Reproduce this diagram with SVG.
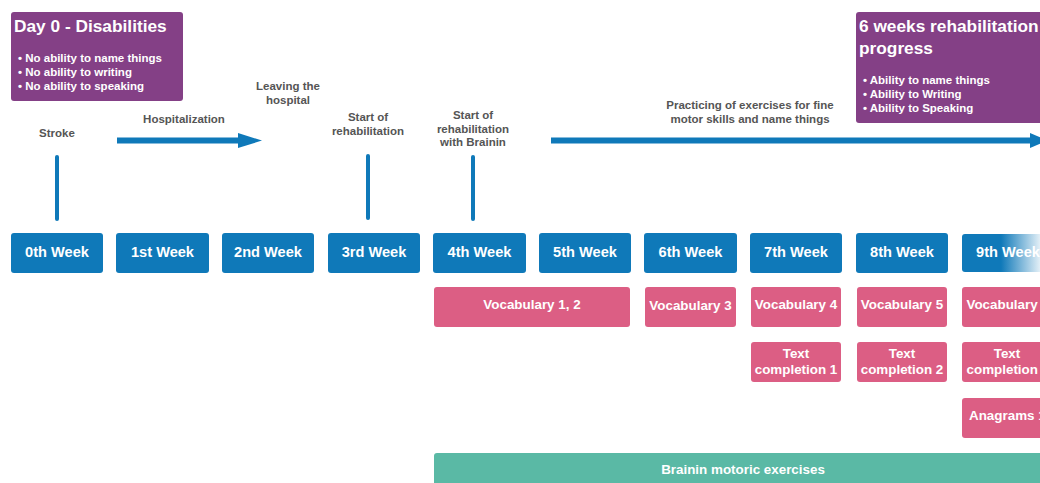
<svg xmlns="http://www.w3.org/2000/svg" width="1040" height="483" viewBox="0 0 1040 483">
<defs>
<style>
.wk{fill:#0f79b9;}
.pk{fill:#dc5e84;}
.pu{fill:#844086;}
.gr{fill:#5ab9a5;}
.wt{font-family:"Liberation Sans",Arial,sans-serif;font-weight:bold;font-size:14.6px;fill:#fff;text-anchor:middle;}
.pt{font-family:"Liberation Sans",Arial,sans-serif;font-weight:bold;font-size:13.4px;fill:#fff;text-anchor:middle;}
.ps{font-family:"Liberation Sans",Arial,sans-serif;font-weight:bold;font-size:13.4px;fill:#fff;}
.lb{font-family:"Liberation Sans",Arial,sans-serif;font-weight:bold;font-size:11.5px;fill:#555;text-anchor:middle;}
.ht{font-family:"Liberation Sans",Arial,sans-serif;font-weight:bold;font-size:17.3px;fill:#fff;}
.bl{font-family:"Liberation Sans",Arial,sans-serif;font-weight:bold;font-size:11.5px;fill:#fff;}
.ln{stroke:#0f79b9;stroke-width:4;stroke-linecap:round;fill:none;}
.ar{stroke:#0f79b9;stroke-width:6;fill:none;}
</style>
<linearGradient id="fade" x1="962" y1="0" x2="1040" y2="0" gradientUnits="userSpaceOnUse">
<stop offset="0" stop-color="#0f79b9"/>
<stop offset="0.5" stop-color="#0f79b9"/>
<stop offset="1" stop-color="#0f79b9" stop-opacity="0.12"/>
</linearGradient>
</defs>
<rect width="1040" height="483" fill="#fff"/>

<g id="connectors">
<line class="ln" x1="57" y1="157" x2="57" y2="219"/>
<line class="ln" x1="368" y1="156" x2="368" y2="218"/>
<line class="ln" x1="473" y1="157" x2="473" y2="219"/>
<line class="ar" x1="117" y1="140.5" x2="240" y2="140.5"/>
<polygon points="238,133 262,140.5 238,148" fill="#0f79b9"/>
<line class="ar" x1="551" y1="140.5" x2="1032" y2="140.5"/>
<polygon points="1030,133 1048,140.5 1030,148" fill="#0f79b9"/>
</g>

<g id="day0">
<rect class="pu" x="11" y="12" width="172" height="89" rx="3"/>
<text class="ht" x="14" y="32">Day 0 - Disabilities</text>
<text class="bl" x="18" y="62">• No ability to name things</text>
<text class="bl" x="18" y="76">• No ability to writing</text>
<text class="bl" x="18" y="90">• No ability to speaking</text>
</g>

<g id="progress">
<rect class="pu" x="856" y="12" width="190" height="111" rx="3"/>
<text class="ht" x="859" y="32">6 weeks rehabilitation</text>
<text class="ht" x="859" y="54">progress</text>
<text class="bl" x="863" y="84">• Ability to name things</text>
<text class="bl" x="863" y="98">• Ability to Writing</text>
<text class="bl" x="863" y="112">• Ability to Speaking</text>
</g>

<g id="labels">
<text class="lb" x="57" y="137">Stroke</text>
<text class="lb" x="184" y="123">Hospitalization</text>
<text class="lb" x="288" y="90">Leaving the</text>
<text class="lb" x="288" y="104">hospital</text>
<text class="lb" x="368" y="121">Start of</text>
<text class="lb" x="368" y="135">rehabilitation</text>
<text class="lb" x="473" y="119">Start of</text>
<text class="lb" x="473" y="133">rehabilitation</text>
<text class="lb" x="473" y="146">with Brainin</text>
<text class="lb" x="750" y="109">Practicing of exercises for fine</text>
<text class="lb" x="750" y="123">motor skills and name things</text>
</g>

<g id="w0"><rect class="wk" x="11" y="233" width="92" height="40" rx="3"/><text class="wt" x="57" y="257">0th Week</text></g>
<g id="w1"><rect class="wk" x="116" y="233" width="93" height="40" rx="3"/><text class="wt" x="162.5" y="257">1st Week</text></g>
<g id="w2"><rect class="wk" x="222" y="233" width="92" height="40" rx="3"/><text class="wt" x="268" y="257">2nd Week</text></g>
<g id="w3"><rect class="wk" x="328" y="233" width="92" height="40" rx="3"/><text class="wt" x="374" y="257">3rd Week</text></g>
<g id="w4"><rect class="wk" x="433" y="233" width="93" height="40" rx="3"/><text class="wt" x="479.5" y="257">4th Week</text></g>
<g id="w5"><rect class="wk" x="539" y="233" width="92" height="40" rx="3"/><text class="wt" x="585" y="257">5th Week</text></g>
<g id="w6"><rect class="wk" x="644" y="233" width="93" height="40" rx="3"/><text class="wt" x="690.5" y="257">6th Week</text></g>
<g id="w7"><rect class="wk" x="750" y="233" width="92" height="40" rx="3"/><text class="wt" x="796" y="257">7th Week</text></g>
<g id="w8"><rect class="wk" x="856" y="233" width="92" height="40" rx="3"/><text class="wt" x="902" y="257">8th Week</text></g>
<g id="w9"><rect x="962" y="234" width="92" height="38" rx="3" fill="url(#fade)"/><text class="wt" x="1008" y="257">9th Week</text></g>

<g id="v12"><rect class="pk" x="434" y="287" width="196" height="40" rx="3"/><text class="pt" x="532" y="309">Vocabulary 1, 2</text></g>
<g id="v3"><rect class="pk" x="645" y="287" width="91" height="40" rx="3"/><text class="pt" x="690.5" y="310">Vocabulary 3</text></g>
<g id="v4"><rect class="pk" x="751" y="287" width="90" height="40" rx="3"/><text class="pt" x="796" y="309">Vocabulary 4</text></g>
<g id="v5"><rect class="pk" x="857" y="287" width="90" height="40" rx="3"/><text class="pt" x="902" y="309">Vocabulary 5</text></g>
<g id="v6"><rect class="pk" x="962" y="287" width="90" height="40" rx="3"/><text class="ps" x="966.5" y="309">Vocabulary</text></g>

<g id="t1"><rect class="pk" x="751" y="342" width="90" height="40" rx="3"/><text class="pt" x="796" y="358">Text</text><text class="pt" x="796" y="374">completion 1</text></g>
<g id="t2"><rect class="pk" x="857" y="342" width="90" height="40" rx="3"/><text class="pt" x="902" y="358">Text</text><text class="pt" x="902" y="374">completion 2</text></g>
<g id="t3"><rect class="pk" x="962" y="342" width="90" height="40" rx="3"/><text class="pt" x="1007" y="358">Text</text><text class="ps" x="966.5" y="374">completion</text></g>

<g id="a1"><rect class="pk" x="962" y="398" width="90" height="40" rx="3"/><text class="ps" x="969" y="420">Anagrams 1</text></g>

<g id="motoric"><rect class="gr" x="434" y="453" width="620" height="40" rx="3"/><text class="pt" x="743" y="474">Brainin motoric exercises</text></g>
</svg>
